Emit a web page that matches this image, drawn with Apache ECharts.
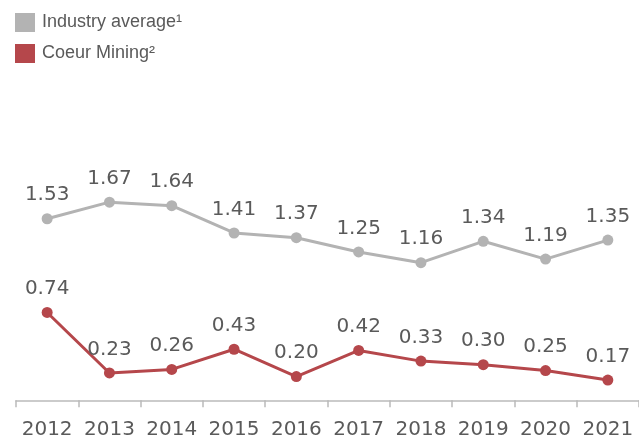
<!DOCTYPE html>
<html>
<head>
<meta charset="utf-8">
<script src="https://cdn.jsdelivr.net/npm/echarts@6/dist/echarts.min.js"></script>
<style>
  html, body { margin: 0; padding: 0; background: #fff; }
  #chart { width: 639px; height: 443px; }
</style>
</head>
<body>
<div id="chart"></div>
<script>
var years = ['2012', '2013', '2014', '2015', '2016', '2017', '2018', '2019', '2020', '2021'];
var industryAvg = [1.53, 1.67, 1.64, 1.41, 1.37, 1.25, 1.16, 1.34, 1.19, 1.35];
var coeurMining = [0.74, 0.23, 0.26, 0.43, 0.20, 0.42, 0.33, 0.30, 0.25, 0.17];
var seriesNames = ['Industry average\u00b9', 'Coeur Mining\u00b2'];

var chart = echarts.init(document.getElementById('chart'));

var labelStyle = {
    show: true,
    position: 'top',
    distance: 8,
    fontFamily: 'DejaVu Sans',
    fontSize: 20,
    color: '#5a5a5a',
    formatter: function (p) { return p.value.toFixed(2); }
};

chart.setOption({
    animation: false,
    legend: {
        orient: 'vertical',
        left: 10,
        top: 8,
        icon: 'rect',
        itemWidth: 20,
        itemHeight: 19,
        itemGap: 12,
        textStyle: {
            fontFamily: 'Liberation Sans',
            fontSize: 18,
            color: '#5a5a5a',
            padding: [0, 0, 0, 2]
        },
        data: seriesNames
    },
    grid: { left: 16, right: 0, top: 163, bottom: 38 },
    xAxis: {
        type: 'category',
        data: years,
        boundaryGap: true,
        axisLine: { lineStyle: { color: '#bbbbbb', width: 1.5 } },
        axisTick: { show: true, length: 7, lineStyle: { color: '#bbbbbb', width: 1.5 } },
        axisLabel: {
            interval: 0,
            fontFamily: 'DejaVu Sans',
            fontSize: 20,
            color: '#5a5a5a',
            margin: 15
        }
    },
    yAxis: {
        type: 'value',
        min: -0.04,
        max: 2.0,
        show: false,
        splitLine: { show: false }
    },
    series: [
        {
            name: seriesNames[0],
            type: 'line',
            data: industryAvg,
            symbol: 'circle',
            symbolSize: 11,
            itemStyle: { color: '#b3b3b3' },
            lineStyle: { color: '#b3b3b3', width: 3 },
            label: labelStyle
        },
        {
            name: seriesNames[1],
            type: 'line',
            data: coeurMining,
            symbol: 'circle',
            symbolSize: 11,
            itemStyle: { color: '#b5474b' },
            lineStyle: { color: '#b5474b', width: 3 },
            label: labelStyle
        }
    ]
});
</script>
</body>
</html>
